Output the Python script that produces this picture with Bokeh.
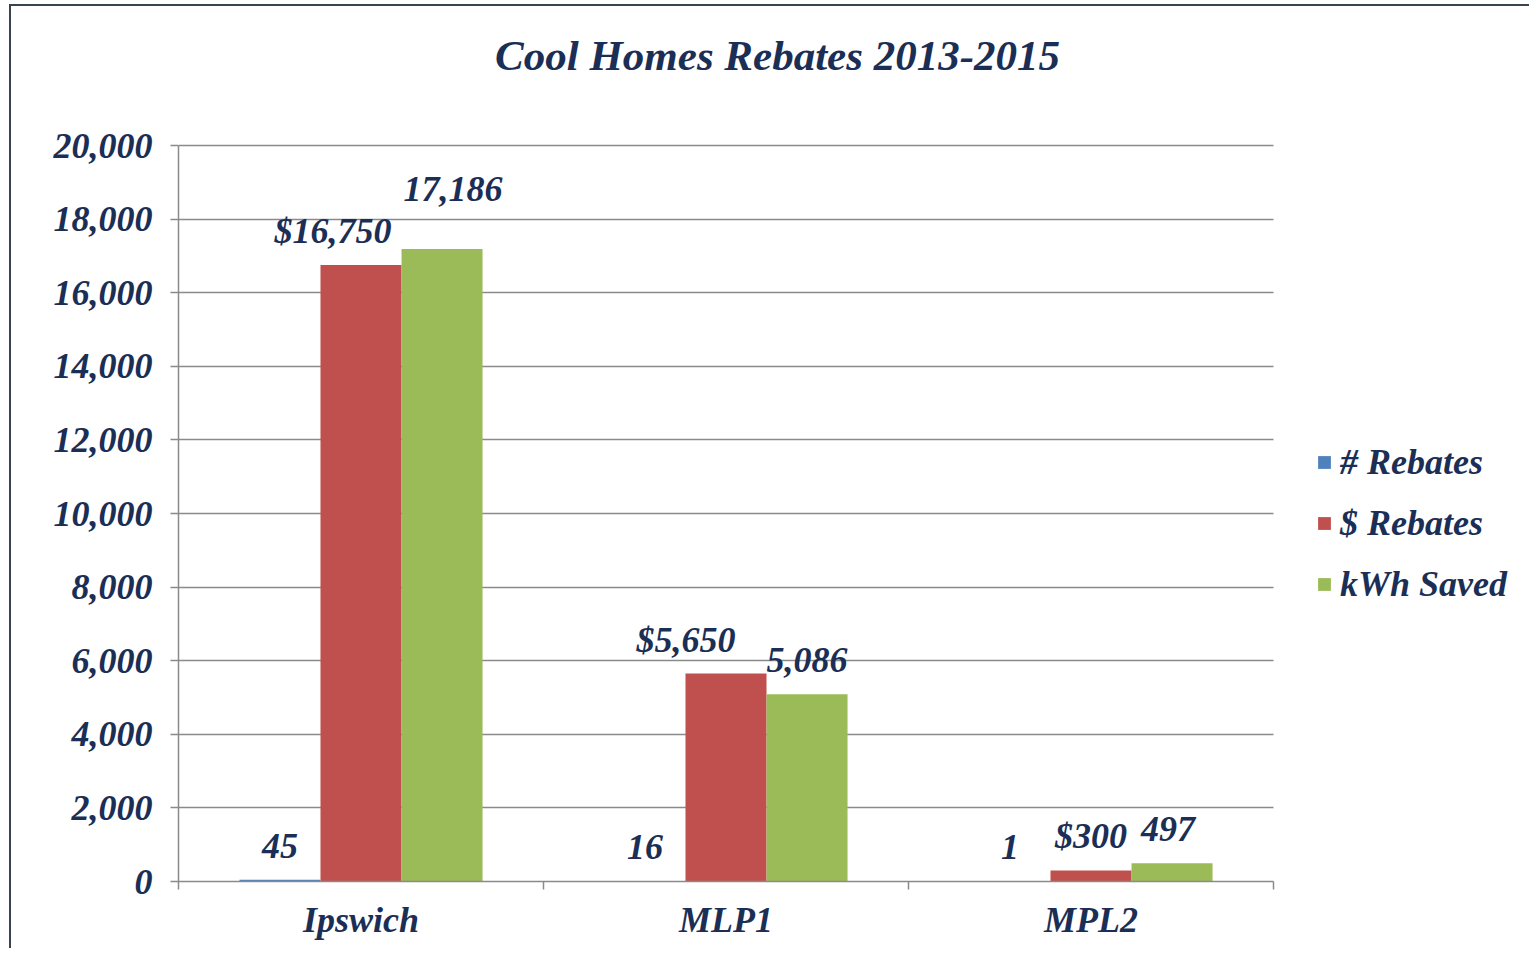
from bokeh.plotting import figure
from bokeh.models import (Range1d, FixedTicker, NumeralTickFormatter, ColumnDataSource,
                          LabelSet, Legend, LegendItem, Label)
from bokeh.embed import file_html
from bokeh.resources import INLINE

title_text = "Cool Homes Rebates 2013-2015"
categories = ["Ipswich", "MLP1", "MPL2"]
series_names = ["# Rebates", "$ Rebates", "kWh Saved"]
num_rebates = [45, 16, 1]
dollar_rebates = [16750, 5650, 300]
kwh_saved = [17186, 5086, 497]
y_max = 20000
y_ticks = list(range(0, y_max + 1, 2000))

# label nudges in screen pixels (style only), per series / category
label_dx = [[0, 0, 0], [-28, -40, 0], [11, 0, -4]]
label_dy = [[0, 0, 0], [0, 0, 0], [26, 0, 0]]

colors = ["#4F81BD", "#C0504D", "#9BBB59"]
text_color = "#1b2f56"
font = "Liberation Serif"
grid_color = "#8a8a8a"

W, H = 1520, 944
left_b, right_b, top_b, bottom_b = 167, 5, 0, 69
n = len(categories)
# the frame is larger than the data area so the title and legend can sit inside it
unit_px = 365.0            # px per category
plot_h_px = 736.0          # px for 0..y_max
x_end = (W - left_b - right_b) / unit_px
y_end = (H - top_b - bottom_b) / plot_h_px * y_max

p = figure(width=W, height=H, x_range=Range1d(0, x_end), title=None,
           y_range=Range1d(0, y_end), output_backend="svg", toolbar_location=None,
           min_border_left=left_b, min_border_right=right_b, min_border_top=top_b,
           min_border_bottom=bottom_b, background_fill_color="white",
           border_fill_color="white")
p.styles = {"border-top": "2px solid #3a4450", "border-left": "2px solid #3a4450",
            "margin-top": "4px", "margin-left": "9px"}
p.outline_line_color = None

# title: sits above the top gridline, centred near the middle of the canvas
p.add_layout(Label(x=(777 - 178) / unit_px, y=y_max + 90 / plot_h_px * y_max,
                   text=title_text, text_align="center", text_baseline="alphabetic",
                   text_font=font, text_font_style="bold italic", text_font_size="43px",
                   text_color=text_color))

bar_w = 0.222
series_vals = [num_rebates, dollar_rebates, kwh_saved]
prefixes = ["", "$", ""]
items = []
for j, (name, vals, col, pre) in enumerate(zip(series_names, series_vals, colors, prefixes)):
    xs = [i + 0.5 + (j - 1) * bar_w for i in range(n)]
    src = ColumnDataSource(dict(x=xs, top=vals, lab=[f"{pre}{v:,}" for v in vals],
                                dx=label_dx[j], dy=[22 + d for d in label_dy[j]]))
    r = p.vbar(x="x", top="top", bottom=0, width=bar_w, source=src, fill_color=col,
               line_color=None)
    items.append(LegendItem(label=name, renderers=[r]))
    p.add_layout(LabelSet(x="x", y="top", text="lab", source=src, text_align="center",
                          text_baseline="alphabetic", x_offset="dx", y_offset="dy",
                          text_font=font, text_font_style="bold italic",
                          text_font_size="36px", text_color=text_color))

# axes
p.xgrid.grid_line_color = None
p.ygrid.grid_line_color = grid_color
p.ygrid.grid_line_width = 1.5
p.ygrid.ticker = FixedTicker(ticks=y_ticks)
p.ygrid.cross_bounds = (0, n)

ya = p.yaxis[0]
ya.bounds = (0, y_max)
ya.ticker = FixedTicker(ticks=y_ticks)
ya.formatter = NumeralTickFormatter(format="0,0")
ya.axis_line_color = grid_color
ya.axis_line_width = 1.5
ya.major_tick_line_color = grid_color
ya.major_tick_line_width = 1.5
ya.major_tick_out = 8
ya.major_tick_in = 0
ya.minor_tick_line_color = None
ya.major_label_standoff = 18
ya.major_label_text_font = font
ya.major_label_text_font_style = "bold italic"
ya.major_label_text_font_size = "36px"
ya.major_label_text_color = text_color

xa = p.xaxis[0]
centers = [i + 0.5 for i in range(n)]
xa.bounds = (0, n)
xa.ticker = FixedTicker(ticks=centers, minor_ticks=list(range(n + 1)))
xa.major_label_overrides = {c: name for c, name in zip(centers, categories)}
xa.axis_line_color = grid_color
xa.axis_line_width = 1.5
xa.major_tick_line_color = None
xa.major_tick_out = 0
xa.major_tick_in = 0
xa.minor_tick_line_color = grid_color
xa.minor_tick_line_width = 1.5
xa.minor_tick_out = 8
xa.minor_tick_in = 0
xa.major_label_standoff = 10
xa.major_label_text_font = font
xa.major_label_text_font_style = "bold italic"
xa.major_label_text_font_size = "36px"
xa.major_label_text_color = text_color

legend = Legend(items=items, location=(1138, 276), orientation="vertical",
                padding=0, margin=0, spacing=19, label_height=40, glyph_height=16,
                glyph_width=16, label_standoff=8, border_line_color=None,
                background_fill_alpha=0, label_text_font=font,
                label_text_font_style="bold italic", label_text_font_size="36px",
                label_text_color=text_color)
p.add_layout(legend, "center")

open("out.html", "w").write(file_html(p, INLINE))
